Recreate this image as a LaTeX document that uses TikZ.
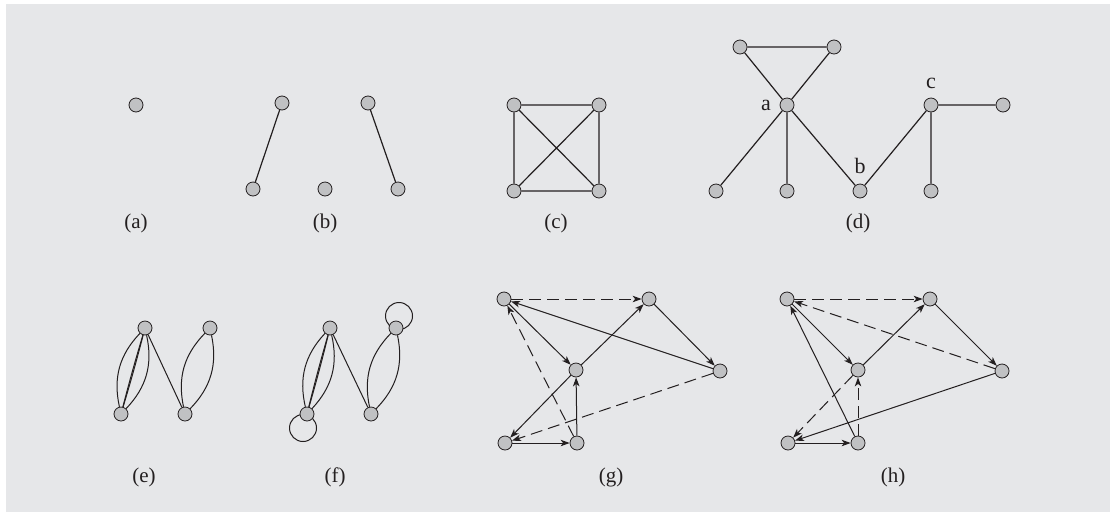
\documentclass[tikz,border=0pt]{standalone}
\usepackage{fontspec}
\setmainfont{Liberation Serif}
\usetikzlibrary{arrows.meta}
\definecolor{bgc}{HTML}{E6E7E9}
\definecolor{vfill}{HTML}{C0C1C3}
\definecolor{ink}{HTML}{231F20}
\tikzset{
  vtx/.style={circle, draw=ink, fill=vfill, line width=0.8pt, minimum size=14pt, inner sep=0pt},
  ln/.style={draw=ink, line width=1.2pt},
  thin/.style={draw=ink, line width=1pt},
  arr/.style={-{Stealth[length=9pt,width=6.5pt,inset=2.5pt]}},
  dsh/.style={dash pattern=on 12pt off 6pt},
  lbl/.style={font=\fontsize{21}{24}\selectfont, text=ink, inner sep=0pt},
  sublbl/.style={font=\fontsize{22}{24}\selectfont, text=ink, inner sep=0pt}
}
\begin{document}
\begin{tikzpicture}[x=1pt,y=-1pt]
\useasboundingbox (0,0) rectangle (1110,512);
\fill[white] (0,0) rectangle (1110,512);
\fill[bgc] (6,4) rectangle (1110,512);

% (a)
\node[vtx] (a1) at (136,105) {};
\node[lbl] (la) at (136,223) {(a)};

% (b)
\node[vtx] (b1) at (282,103) {};
\node[vtx] (b2) at (253,189) {};
\node[vtx] (b3) at (325,189) {};
\node[vtx] (b4) at (368,103) {};
\node[vtx] (b5) at (398,189) {};
\draw[ln] (b1) -- (b2);
\draw[ln] (b4) -- (b5);
\node[lbl] (lb) at (325,223) {(b)};

% (c)
\node[vtx] (c1) at (514,105) {};
\node[vtx] (c2) at (599,105) {};
\node[vtx] (c3) at (514,191) {};
\node[vtx] (c4) at (599,191) {};
\draw[ln] (c1) -- (c2) (c2) -- (c4) (c4) -- (c3) (c3) -- (c1) (c1) -- (c4) (c2) -- (c3);
\node[lbl] (lc) at (556,223) {(c)};

% (d)
\node[vtx] (d1) at (740,47) {};
\node[vtx] (d2) at (834,47) {};
\node[vtx] (da) at (787,105) {};
\node[vtx] (d4) at (716,191) {};
\node[vtx] (d5) at (787,191) {};
\node[vtx] (db) at (860,191) {};
\node[vtx] (dc) at (931,105) {};
\node[vtx] (d8) at (1003,105) {};
\node[vtx] (d9) at (931,191) {};
\draw[ln] (d1) -- (d2) (d1) -- (da) (d2) -- (da) (da) -- (d4) (da) -- (d5) (da) -- (db)
  (db) -- (dc) (dc) -- (d8) (dc) -- (d9);
\node[sublbl,anchor=base] (tla) at (766,110) {a};
\node[sublbl,anchor=base] (tlb) at (860,173) {b};
\node[sublbl,anchor=base] (tlc) at (931,88) {c};
\node[lbl] (ld) at (858,223) {(d)};

% (e)
\node[vtx] (e1) at (145,328) {};
\node[vtx] (e2) at (210,328) {};
\node[vtx] (e3) at (121,414) {};
\node[vtx] (e4) at (185,414) {};
\draw[thin] (e1) to[bend right=28] (e3);
\draw[thin] (e1) to[bend left=28] (e3);
\draw[thin] (e1) to[bend right=1] (e3);
\draw[thin] (e1) to[bend left=1] (e3);
\draw[thin] (e1) -- (e4);
\draw[thin] (e2) to[bend right=28] (e4);
\draw[thin] (e2) to[bend left=28] (e4);
\node[lbl] (le) at (144,477) {(e)};

% (f)
\coordinate (fl1) at (303,428);
\coordinate (fl2) at (399,316);
\draw[thin] (fl1) circle (13.5);
\draw[thin] (fl2) circle (13.5);
\node[vtx] (f1) at (330,328) {};
\node[vtx] (f2) at (396,328) {};
\node[vtx] (f3) at (307,414) {};
\node[vtx] (f4) at (371,414) {};
\draw[thin] (f1) to[bend right=28] (f3);
\draw[thin] (f1) to[bend left=28] (f3);
\draw[thin] (f1) to[bend right=1] (f3);
\draw[thin] (f1) to[bend left=1] (f3);
\draw[thin] (f1) -- (f4);
\draw[thin] (f2) to[bend right=28] (f4);
\draw[thin] (f2) to[bend left=28] (f4);
\node[lbl] (lf) at (335,477) {(f)};

% (g)
\node[vtx] (gA) at (504,299) {};
\node[vtx] (gB) at (649,299) {};
\node[vtx] (gC) at (576,370) {};
\node[vtx] (gD) at (720,371) {};
\node[vtx] (gE) at (505,443) {};
\node[vtx] (gF) at (577,443) {};
\draw[thin,arr,dsh] (gA) -- (gB);
\draw[thin,arr] (gB) -- (gD);
\draw[thin,arr] (gD) -- (gA);
\draw[thin,arr] (gA) -- (gC);
\draw[thin,arr] (gC) -- (gB);
\draw[thin,arr] (gC) -- (gE);
\draw[thin,arr] (gE) -- (gF);
\draw[thin,arr] (gF) -- (gC);
\draw[thin,arr,dsh] (gF) -- (gA);
\draw[thin,arr,dsh] (gD) -- (gE);
\node[lbl] (lg) at (611,477) {(g)};

% (h)
\node[vtx] (hA) at (787,299) {};
\node[vtx] (hB) at (930,299) {};
\node[vtx] (hC) at (858,370) {};
\node[vtx] (hD) at (1002,371) {};
\node[vtx] (hE) at (788,443) {};
\node[vtx] (hF) at (858,443) {};
\draw[thin,arr,dsh] (hA) -- (hB);
\draw[thin,arr] (hB) -- (hD);
\draw[thin,arr,dsh] (hD) -- (hA);
\draw[thin,arr] (hA) -- (hC);
\draw[thin,arr] (hC) -- (hB);
\draw[thin,arr,dsh] (hC) -- (hE);
\draw[thin,arr] (hE) -- (hF);
\draw[thin,arr,dsh] (hF) -- (hC);
\draw[thin,arr] (hF) -- (hA);
\draw[thin,arr] (hD) -- (hE);
\node[lbl] (lh) at (893,477) {(h)};
\end{tikzpicture}
\end{document}
